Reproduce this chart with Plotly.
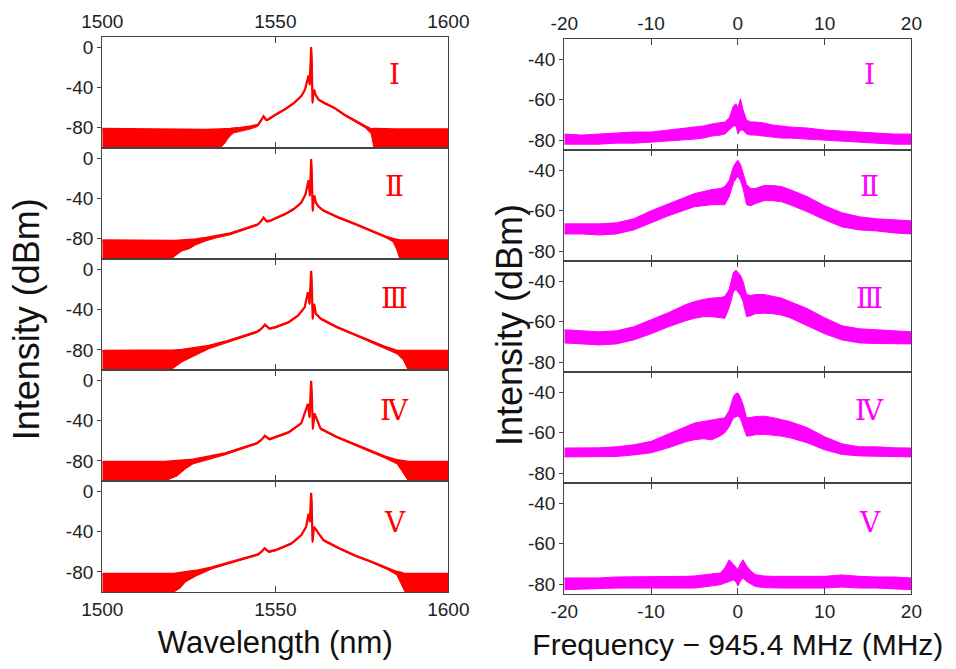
import plotly.graph_objects as go

W, H = 956, 669
RED = "#FF0000"
MAG = "#FF00FF"
AXC = "#444444"

# ---------------- Left column: optical spectra (wavelength, dBm) ----------------
WL1 = [1500, 1510, 1520, 1530, 1534, 1535.3, 1536, 1537, 1538, 1540, 1543, 1545, 1546, 1546.6, 1547.3, 1548,
       1550, 1553, 1555.5, 1557.5, 1558.6, 1559.2, 1559.6, 1559.95, 1560.2, 1560.35, 1560.5, 1560.75, 1561.0,
       1561.2, 1561.6, 1562.5, 1564, 1567, 1570, 1571, 1573, 1576, 1577.7, 1578.5, 1585, 1590, 1595, 1600]
TOP1 = [-81, -81.5, -82, -82, -81.5, -81.5, -81, -81, -80.5, -80, -78.5, -77, -72, -68.5, -72, -71.5,
        -67, -61, -55, -48.5, -42, -33, -28, -37, -5, 0, -10, -55, -45,
        -42, -47, -52, -55, -60, -67, -69, -73, -78.5, -81.5, -81, -81.5, -81.5, -81.5, -81.5]
BOT1 = [-100, -100, -100, -100, -100, -96, -92, -88, -85, -83.5, -81, -78.5, -73, -69.5, -73, -72.5,
        -68, -62, -56, -49.5, -43, -34, -29, -38, -6, -1, -11, -56, -46,
        -43, -48, -53, -56, -61, -68, -70, -74, -80, -86, -100, -100, -100, -100, -100]

WL2 = [1500, 1510, 1520, 1521, 1523, 1525, 1527, 1530, 1533, 1537, 1541, 1545, 1546, 1546.6, 1547.5, 1548.5,
       1550, 1553, 1555.5, 1557.5, 1558.7, 1559.3, 1559.6, 1560.0, 1560.2, 1560.35, 1560.5, 1560.8, 1561.1,
       1561.3, 1561.7, 1562.5, 1564, 1568.5, 1573, 1577.7, 1582, 1584, 1585, 1586, 1590, 1595, 1600]
TOP2 = [-81.5, -82, -82, -82, -81.5, -81, -80.5, -79, -77, -74.5, -70, -65.5, -62, -59, -62.5, -62,
        -59.5, -55, -50, -44, -36, -25, -22, -37, -8, -1, -10, -52, -40,
        -37, -44, -48, -52, -59, -65, -71.7, -78, -80, -81, -81.5, -81.5, -81.5, -81.5]
BOT2 = [-100, -100, -100, -97, -92, -90, -86, -82, -79, -76, -71, -66.5, -63, -60, -63.5, -63,
        -60.5, -56, -51, -45, -37, -26, -23, -38, -9, -2, -11, -53, -41,
        -38, -45, -49, -53, -60, -66, -72.7, -79, -83, -90, -100, -100, -100, -100]

WL3 = [1500, 1510, 1519.8, 1521, 1523, 1526.2, 1530.8, 1535.5, 1540.1, 1544.7, 1546, 1547, 1548.3, 1550.2,
       1553.9, 1556.6, 1558.5, 1559.4, 1559.9, 1560.2, 1560.35, 1560.5, 1560.8, 1561.2, 1561.7, 1563.1,
       1567.7, 1572.3, 1576.9, 1581.5, 1585.2, 1587, 1588.4, 1590, 1595, 1600]
TOP3 = [-81, -81, -80.7, -80.5, -80, -78.4, -76, -71.9, -67, -62, -59, -54.9, -58.8, -57.2,
        -52.3, -45.8, -37.6, -22.9, -34.3, -8, -1.6, -10, -49, -34.3, -44, -49,
        -57.2, -63.7, -70.3, -76.8, -81, -81, -81, -81, -81, -81]
BOT3 = [-100, -100, -100, -97, -92, -86.6, -79, -73.5, -68, -63, -60, -56, -59.8, -58.2,
        -53.3, -46.8, -38.6, -23.9, -35.3, -9, -2.6, -11, -50, -35.3, -45, -50,
        -58.2, -64.7, -71.3, -78.5, -84, -90, -100, -100, -100, -100]

WL4 = [1500, 1510, 1518, 1521.6, 1524, 1526.2, 1535.5, 1544.7, 1546, 1547, 1548.3, 1553.9, 1557.5, 1559.4,
       1559.9, 1560.2, 1560.35, 1560.5, 1560.85, 1561.3, 1563.1, 1567.7, 1572.3, 1576.9, 1581.5, 1585.2,
       1587, 1588.5, 1590, 1595, 1600]
TOP4 = [-81, -81, -81, -80, -79.5, -78.7, -72.5, -62.3, -59, -55, -58.4, -51.5, -42.6, -23.6,
        -36.7, -8, -0.7, -10, -48, -33, -48, -56, -62.6, -69, -75.4, -79.3,
        -80.5, -81, -81, -81, -81]
BOT4 = [-100, -100, -100, -95, -88, -83, -74, -63.3, -60, -56, -59.4, -52.5, -43.6, -24.6,
        -37.7, -9, -1.7, -11, -49, -34, -49, -57, -63.6, -70, -77, -83,
        -92, -100, -100, -100, -100]

WL5 = [1500, 1510, 1520.7, 1522.5, 1524, 1527.1, 1531.7, 1536.3, 1540.9, 1545.1, 1546, 1546.9, 1548.1, 1550.1,
       1554.7, 1557.5, 1558.9, 1559.6, 1560.0, 1560.2, 1560.35, 1560.5, 1560.75, 1561.2, 1563.9, 1568.5,
       1573.1, 1577.7, 1582.3, 1585.1, 1586.5, 1587.5, 1590, 1595, 1600]
TOP5 = [-82, -82, -82, -81, -80.5, -78.8, -75.5, -71.2, -66.3, -62.4, -60, -56.5, -59.8, -58.2,
        -51.6, -43.5, -35.3, -22.2, -30, -8, -1.6, -10, -50, -35.3, -48.4, -56.5,
        -63.7, -69.6, -76.1, -80, -81, -82, -82, -82, -82]
BOT5 = [-100, -100, -100, -96, -90, -84, -77, -72.2, -67.3, -63.4, -61, -57.5, -60.8, -59.2,
        -52.6, -44.5, -36.3, -23.2, -31, -9, -2.6, -11, -51, -36.3, -49.4, -57.5,
        -64.7, -70.6, -77.5, -83, -92, -100, -100, -100, -100]

# ---------------- Right column: RF spectra (MHz offset, dBm) ----------------
FREQ = [-20, -18, -16, -14, -12, -10, -8, -6, -5, -4, -3, -2, -1.5, -1, -0.5, -0.2, 0, 0.3, 0.6, 1, 1.5, 2,
        3, 4, 5, 6, 8, 10, 12, 14, 16, 18, 20]

UP1 = [-77, -77.5, -77, -76.5, -76, -76, -75, -74, -73.5, -73, -72, -71.5, -71, -69, -63, -62, -64, -59.5, -65,
       -70, -71, -71, -71.5, -72.5, -73, -73.5, -74, -75, -75.5, -76, -76.5, -77, -77]
LO1 = [-82, -82, -82, -81.5, -81.5, -81, -80.5, -80, -79.5, -79, -78, -77.5, -77, -75, -73, -73, -77, -75, -75,
       -77, -77.5, -77.5, -78, -78.5, -79, -79, -79.5, -80, -80.5, -81, -81.5, -82, -82]

UP2 = [-66.5, -66.5, -66.5, -66, -64, -60, -56.5, -53, -51.5, -50.5, -49.5, -49, -48, -45, -38, -36, -35, -37, -41,
       -47, -49, -49, -47.5, -47.5, -48, -49.5, -53, -57.5, -61, -63, -64, -64.5, -65]
LO2 = [-71.5, -71.5, -72, -71.5, -69.5, -66, -62.5, -59.5, -58, -57.5, -57, -57, -57, -53, -46, -44, -43, -45, -49,
       -57, -57.5, -56.5, -55, -55, -55.5, -57, -60.5, -64.5, -68, -69.5, -70, -71, -71.5]

UP3 = [-64, -64.5, -65, -64.5, -62.5, -59, -55.5, -51.5, -50, -49, -48.3, -48, -47.5, -44, -35.5, -34.5, -35.5, -37,
       -40, -46.5, -47, -46.5, -46.5, -47.5, -48.3, -50, -53.5, -58, -62, -63.5, -64, -64.5, -65]
LO3 = [-70.5, -71, -71.5, -71, -69, -66, -62.5, -59.5, -58.3, -57.5, -57.5, -58, -58.3, -53, -45, -44, -45, -47,
       -50, -57.5, -57, -56, -55.8, -56, -56.7, -58, -62, -66, -69, -70.5, -70.8, -71, -71]

UP4 = [-67.6, -67.5, -67.5, -67, -66, -64.3, -60.5, -57, -55.2, -54.5, -53.6, -53, -52.6, -49, -42, -40.5, -40.3,
       -42.5, -46, -52.6, -52.5, -52, -51.8, -52.5, -53.5, -54.5, -57.5, -62, -65.5, -67, -67, -67.5, -67.6]
LO4 = [-72, -72, -72, -71.8, -71, -70, -67.5, -64.5, -63.5, -63, -63.5, -61.5, -60, -57, -52.6, -52, -51.8,
       -53, -56.5, -61.7, -61.5, -61, -60.8, -61.2, -61.7, -62.5, -65, -68.5, -70.8, -71.5, -71.7, -71.8, -72]

UP5 = [-77, -77, -77, -76.5, -76.5, -76.5, -76.5, -76.2, -76, -75.5, -75, -74.5, -72, -68, -70.3, -71.5, -72.8,
       -70, -68, -71, -73.5, -75.3, -76, -76.2, -76.2, -76.2, -76.2, -76.2, -75.5, -76.2, -76.5, -76.5, -77]
LO5 = [-82.8, -82.5, -82.5, -82, -82, -82, -82, -82, -82, -81.5, -81, -80.3, -79.5, -78.7, -78, -79, -81,
       -78.5, -77, -78.7, -80, -81.2, -81.8, -82, -82, -82, -82, -82, -81.5, -82, -82, -82.5, -82.8]

LABELS = ["Ⅰ", "Ⅱ", "Ⅲ", "Ⅳ", "Ⅴ"]
WL_TICKS = [1500, 1550, 1600]
FREQ_TICKS = [-20, -10, 0, 10, 20]
LEFT_YTICKS = [0, -40, -80]
RIGHT_YTICKS = [-40, -60, -80]

left_data = [(WL1, TOP1, BOT1), (WL2, TOP2, BOT2), (WL3, TOP3, BOT3), (WL4, TOP4, BOT4), (WL5, TOP5, BOT5)]
right_data = [(UP1, LO1), (UP2, LO2), (UP3, LO3), (UP4, LO4), (UP5, LO5)]

fig = go.Figure()


def ax_ids(n):
    return ("x" if n == 1 else f"x{n}"), ("y" if n == 1 else f"y{n}")


def ax_keys(n):
    return ("xaxis" if n == 1 else f"xaxis{n}"), ("yaxis" if n == 1 else f"yaxis{n}")


for i, (wl, top, bot) in enumerate(left_data):
    xa, ya = ax_ids(i + 1)
    fig.add_trace(go.Scatter(x=wl, y=bot, mode="lines", line=dict(color=RED, width=1),
                             xaxis=xa, yaxis=ya, showlegend=False, hoverinfo="skip"))
    fig.add_trace(go.Scatter(x=wl, y=top, mode="lines", line=dict(color=RED, width=2.2),
                             fill="tonexty", fillcolor=RED,
                             xaxis=xa, yaxis=ya, showlegend=False, hoverinfo="skip"))

for i, (up, lo) in enumerate(right_data):
    xa, ya = ax_ids(i + 6)
    fig.add_trace(go.Scatter(x=FREQ, y=lo, mode="lines", line=dict(color=MAG, width=1),
                             xaxis=xa, yaxis=ya, showlegend=False, hoverinfo="skip"))
    fig.add_trace(go.Scatter(x=FREQ, y=up, mode="lines", line=dict(color=MAG, width=1),
                             fill="tonexty", fillcolor=MAG,
                             xaxis=xa, yaxis=ya, showlegend=False, hoverinfo="skip"))

layout = dict(width=W, height=H, margin=dict(l=0, r=0, t=0, b=0),
              paper_bgcolor="white", plot_bgcolor="white", showlegend=False,
              font=dict(family="Liberation Sans, Arial, sans-serif", size=19, color="#222222"))

common_x = dict(ticks="inside", ticklen=6, tickwidth=1.3, tickcolor=AXC, showline=True, linecolor=AXC,
                linewidth=1.3, mirror="ticks", showgrid=False, zeroline=False, fixedrange=True)
common_y = dict(ticks="outside", ticklen=4, tickwidth=1.3, tickcolor=AXC, showline=True, linecolor=AXC,
                linewidth=1.3, mirror=True, showgrid=False, zeroline=False, fixedrange=True)

XTITLES = ["Wavelength (nm)", "Frequency − 945.4 MHz (MHz)"]
XTITLE_SIZES = [31, 30]

annotations = []
for col in range(2):
    for i in range(5):
        n = i + 1 + 5 * col
        xk, yk = ax_keys(n)
        xa, ya = ax_ids(n)
        if col == 0:
            top_px = 37 + i * 111.2
            bot_px = top_px + 111.2
            xdom = [85 / W, 447 / W]
            xr = [1500, 1600]
            xt = WL_TICKS
            yr = [-100, 10]
            yt = LEFT_YTICKS
            lab_x = 391
            color = RED
        else:
            top_px = 39.3 + i * 111.14
            bot_px = top_px + 111.14
            xdom = [568.3 / W, 931.3 / W]
            xr = [-20, 20]
            xt = FREQ_TICKS
            yr = [-85, -30]
            yt = RIGHT_YTICKS
            lab_x = 888
            color = MAG
        ydom = [1 - bot_px / H, 1 - top_px / H]
        xdict = dict(common_x, domain=xdom, range=xr, anchor=ya, tickvals=xt,
                     ticktext=[str(v) for v in xt], showticklabels=(i in (0, 4)),
                     side="top" if i == 0 else "bottom")
        if i == 4:
            xdict["title"] = dict(text=XTITLES[col], font=dict(size=XTITLE_SIZES[col], color="#111111"),
                                  standoff=12)
        layout[xk] = xdict
        layout[yk] = dict(common_y, domain=ydom, range=yr, anchor=xa, tickvals=yt,
                          ticktext=[str(v) for v in yt])
        annotations.append(dict(text=LABELS[i], x=lab_x / W, y=1 - (75 + i * 112) / H,
                                xref="paper", yref="paper", showarrow=False,
                                xanchor="center", yanchor="middle",
                                font=dict(family="DejaVu Serif, Liberation Serif, serif", size=28, color=color)))

annotations += [
    dict(text="Intensity (dBm)", x=6 / W, y=1 - 320 / H, xref="paper", yref="paper", showarrow=False,
         xanchor="center", yanchor="middle", textangle=-90, font=dict(size=36, color="#111111")),
    dict(text="Intensity (dBm)", x=511 / W, y=1 - 326 / H, xref="paper", yref="paper", showarrow=False,
         xanchor="center", yanchor="middle", textangle=-90, font=dict(size=36, color="#111111")),
]
layout["annotations"] = annotations

fig.update_layout(**layout)
fig.write_html("out.html")
